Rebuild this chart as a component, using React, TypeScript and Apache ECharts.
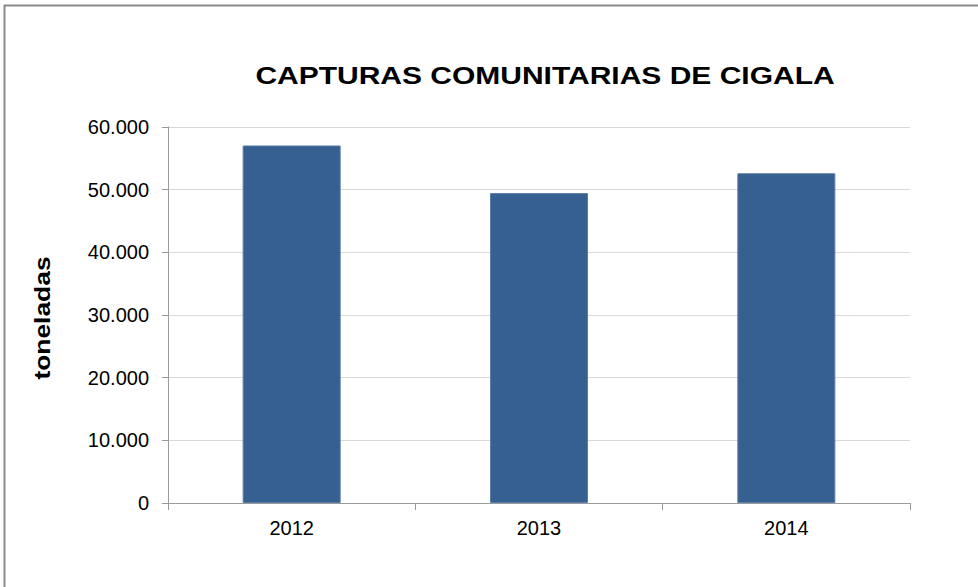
import React, { useEffect, useRef } from "react";
import * as echarts from "echarts";

const categories = ["2012", "2013", "2014"];
const capturas = [57050, 49450, 52620];
const yTicks = [0, 10000, 20000, 30000, 40000, 50000, 60000];
const titleText = "CAPTURAS COMUNITARIAS DE CIGALA";
const yName = "toneladas";

function fmt(v: number): string {
  return String(Math.round(v)).replace(/\B(?=(\d{3})+(?!\d))/g, ".");
}

const FONT = "Liberation Sans, Arial, sans-serif";

export default function App() {
  const ref = useRef<HTMLDivElement>(null);
  useEffect(() => {
    if (!ref.current) return;
    const chart = echarts.init(ref.current, undefined, { renderer: "svg" });
    chart.setOption({
      animation: false,
      backgroundColor: "#ffffff",
      graphic: [
        {
          type: "polyline",
          shape: { points: [[4.5, 590], [4.5, 5.5], [985, 5.5]] },
          style: { stroke: "#8a8a8a", lineWidth: 2, fill: "none" },
        },
        {
          type: "text",
          x: 545,
          y: 76,
          scaleX: 1.25,
          style: {
            text: titleText,
            fontFamily: FONT,
            fontSize: 24,
            fontWeight: "bold",
            fill: "#000000",
            align: "center",
            verticalAlign: "middle",
          },
        },
        {
          type: "text",
          x: 42,
          y: 318,
          rotation: Math.PI / 2,
          scaleX: 1.2,
          style: {
            text: yName,
            fontFamily: FONT,
            fontSize: 22,
            fontWeight: "bold",
            fill: "#000000",
            align: "center",
            verticalAlign: "middle",
          },
        },
      ],
      grid: { left: 168, right: 68, top: 127, bottom: 84 },
      xAxis: {
        type: "category",
        data: categories,
        axisLine: { lineStyle: { color: "#9a9a9a", width: 1 } },
        axisTick: { show: true, alignWithLabel: false, length: 7, lineStyle: { color: "#9a9a9a" } },
        axisLabel: {
          fontFamily: FONT,
          fontSize: 20,
          color: "#000000",
          margin: 15,
        },
      },
      yAxis: {
        type: "value",
        min: yTicks[0],
        max: yTicks[yTicks.length - 1],
        interval: 10000,
        axisLine: { show: true, lineStyle: { color: "#9a9a9a", width: 1 } },
        axisTick: { show: true, length: 6, lineStyle: { color: "#9a9a9a" } },
        splitLine: { show: true, lineStyle: { color: "#d9d9d9", width: 1 } },
        axisLabel: {
          fontFamily: FONT,
          fontSize: 20,
          color: "#000000",
          margin: 19,
          formatter: (v: number) => fmt(v),
        },
      },
      series: [
        {
          type: "bar",
          data: capturas,
          barWidth: 98,
          itemStyle: { color: "#36608f", borderColor: "#5a7dab", borderWidth: 1 },
        },
      ],
    });
    return () => chart.dispose();
  }, []);
  return (
    <div
      ref={ref}
      style={{ position: "fixed", left: 0, top: 0, width: 978, height: 587 }}
    />
  );
}
